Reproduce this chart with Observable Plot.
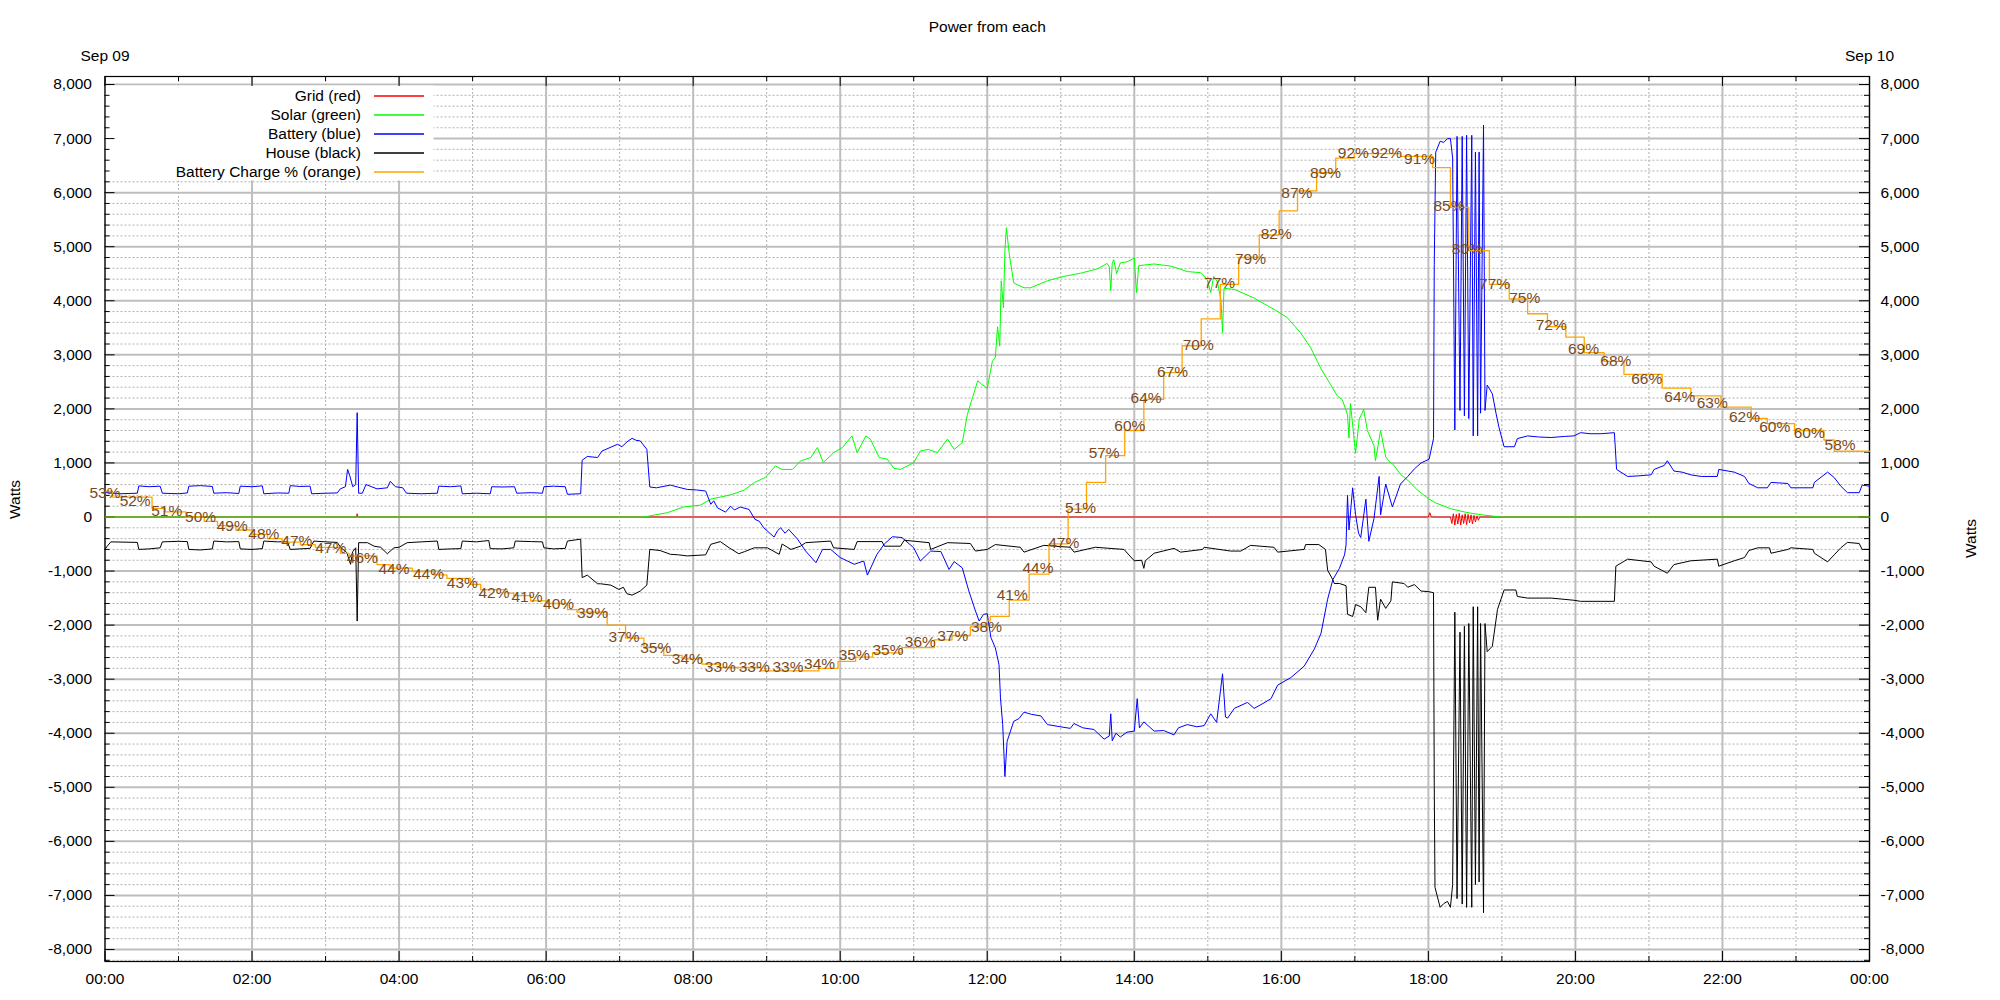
<!DOCTYPE html>
<html><head><meta charset="utf-8">
<script src="https://cdn.jsdelivr.net/npm/d3@7"></script>
<script src="https://cdn.jsdelivr.net/npm/@observablehq/plot@0.6"></script>
<style>
html,body{margin:0;padding:0;background:#fff;}
#chart{position:relative;width:2000px;height:1000px;}
</style>
</head><body><div id="chart"></div>
<script>
// ---------------- DATA (hours since 00:00 Sep 09, watts / percent) ----------------
const titleText = "Power from each";
const dateHours = [0, 24];
const dateTexts = ["Sep 09", "Sep 10"];
const legendNames = ["Grid (red)", "Solar (green)", "Battery (blue)", "House (black)", "Battery Charge % (orange)"];
const legendColors = ["#ff0000", "#00ff00", "#0000ff", "#000000", "#ffa500"];

const gridPts = [[0,0],[3.42,0],[3.43,60],[3.44,0],[18.0,0],[18.02,80],[18.04,0],[18.3,0],[18.32,-120],[18.34,60],[18.36,-150],[18.38,50],[18.4,-130],[18.42,70],[18.44,-150],[18.46,40],[18.48,-120],[18.5,60],[18.52,-140],[18.54,50],[18.56,-110],[18.58,40],[18.6,-130],[18.62,30],[18.64,-90],[18.66,20],[18.68,-60],[18.7,0],[24,0]];

const solarPts = [[0,0],[7.33,0],[7.45,30],[7.65,80],[7.87,185],[8.1,220],[8.24,330],[8.51,410],[8.69,495],[8.83,635],[8.98,730],[9.12,945],[9.21,880],[9.35,880],[9.46,1035],[9.6,1100],[9.69,1285],[9.77,1005],[9.91,1190],[10.03,1285],[10.16,1500],[10.23,1190],[10.35,1500],[10.41,1440],[10.53,1100],[10.64,1070],[10.73,900],[10.82,880],[11.0,1005],[11.09,1220],[11.2,1250],[11.32,1190],[11.46,1440],[11.55,1250],[11.66,1375],[11.73,1900],[11.8,2210],[11.87,2520],[11.93,2450],[12.0,2380],[12.07,2880],[12.11,2950],[12.14,3520],[12.17,3160],[12.19,4370],[12.22,3870],[12.24,4930],[12.26,5350],[12.3,4860],[12.36,4330],[12.5,4240],[12.59,4240],[12.82,4370],[13.04,4450],[13.27,4510],[13.5,4590],[13.63,4690],[13.66,4630],[13.68,4190],[13.7,4700],[13.72,4760],[13.76,4500],[13.81,4700],[13.9,4720],[14.0,4790],[14.03,4150],[14.06,4650],[14.27,4680],[14.5,4640],[14.72,4540],[14.9,4520],[14.99,4400],[15.04,4150],[15.08,4450],[15.13,4350],[15.18,4010],[15.2,3410],[15.22,4230],[15.36,4210],[15.63,4050],[15.9,3840],[16.08,3690],[16.26,3410],[16.4,3130],[16.54,2740],[16.67,2450],[16.76,2240],[16.83,2170],[16.9,1890],[16.92,1460],[16.94,2100],[17.01,1180],[17.06,1810],[17.12,1990],[17.17,1600],[17.26,1320],[17.28,1040],[17.35,1600],[17.42,1110],[17.46,1040],[17.53,960],[17.62,790],[17.72,680],[17.85,500],[18.01,330],[18.1,260],[18.3,155],[18.5,90],[18.67,50],[18.85,20],[18.98,0],[24,0]];

const batteryPts = [[0,500],[0.02,450],[0.2,430],[0.44,440],[0.46,575],[0.6,560],[0.75,570],[0.78,440],[1.0,430],[1.12,445],[1.14,570],[1.3,580],[1.46,565],[1.48,440],[1.65,450],[1.82,435],[1.84,570],[2.0,560],[2.14,575],[2.16,430],[2.35,445],[2.5,440],[2.52,580],[2.65,565],[2.79,570],[2.81,430],[3.0,440],[3.16,445],[3.2,520],[3.27,560],[3.3,880],[3.33,760],[3.37,560],[3.41,600],[3.43,1930],[3.45,440],[3.5,440],[3.55,600],[3.7,520],[3.84,540],[3.88,660],[3.95,560],[4.05,540],[4.1,440],[4.3,430],[4.52,440],[4.54,570],[4.7,560],[4.84,575],[4.86,430],[5.05,440],[5.24,430],[5.26,560],[5.4,555],[5.57,560],[5.6,440],[5.8,450],[5.95,440],[5.97,560],[6.1,570],[6.26,560],[6.29,420],[6.47,430],[6.49,1050],[6.56,1120],[6.7,1100],[6.76,1220],[6.97,1345],[7.03,1300],[7.1,1390],[7.17,1456],[7.22,1420],[7.28,1407],[7.37,1252],[7.41,555],[7.5,540],[7.69,590],[7.8,550],[7.92,510],[8.05,500],[8.17,480],[8.24,235],[8.28,300],[8.33,170],[8.44,90],[8.51,200],[8.56,130],[8.64,185],[8.76,140],[8.84,-43],[8.9,-80],[8.96,-200],[9.1,-370],[9.15,-250],[9.19,-200],[9.25,-300],[9.3,-230],[9.42,-410],[9.53,-630],[9.67,-845],[9.76,-600],[9.87,-600],[10.0,-750],[10.19,-875],[10.32,-815],[10.37,-1075],[10.5,-690],[10.6,-500],[10.71,-365],[10.84,-380],[11.0,-570],[11.09,-815],[11.23,-630],[11.37,-640],[11.48,-970],[11.55,-825],[11.66,-940],[11.75,-1370],[11.84,-1740],[11.89,-1925],[11.95,-1800],[12.0,-1790],[12.05,-2230],[12.11,-2420],[12.16,-2730],[12.18,-3345],[12.21,-3840],[12.24,-4800],[12.27,-4150],[12.36,-3780],[12.43,-3730],[12.5,-3610],[12.6,-3650],[12.73,-3680],[12.82,-3840],[12.95,-3870],[13.13,-3910],[13.18,-3820],[13.3,-3900],[13.45,-3930],[13.59,-4110],[13.66,-4050],[13.68,-3640],[13.7,-4140],[13.75,-4000],[13.81,-4070],[13.9,-3980],[14.0,-3960],[14.04,-3360],[14.07,-3900],[14.13,-3790],[14.27,-3960],[14.4,-3950],[14.54,-4030],[14.6,-3900],[14.72,-3840],[14.85,-3880],[14.95,-3860],[15.04,-3640],[15.12,-3800],[15.2,-2900],[15.24,-3700],[15.27,-3720],[15.36,-3540],[15.54,-3430],[15.63,-3540],[15.75,-3450],[15.86,-3360],[15.95,-3110],[16.13,-2970],[16.31,-2760],[16.45,-2440],[16.54,-2150],[16.63,-1520],[16.7,-1160],[16.79,-950],[16.86,-700],[16.88,-520],[16.9,400],[16.92,-240],[16.97,540],[17.01,40],[17.05,-300],[17.08,-380],[17.15,330],[17.19,-450],[17.26,-30],[17.33,750],[17.35,40],[17.42,610],[17.51,185],[17.62,610],[17.72,750],[17.81,890],[17.9,1000],[18.01,1070],[18.07,1450],[18.08,4670],[18.1,6750],[18.16,6950],[18.21,6930],[18.26,7000],[18.3,7000],[18.33,6640],[18.36,1610],[18.39,7040],[18.43,1970],[18.46,7040],[18.49,1870],[18.52,7060],[18.55,1820],[18.59,7060],[18.61,1500],[18.64,6750],[18.67,1500],[18.69,6750],[18.71,1920],[18.75,7250],[18.77,1970],[18.8,2440],[18.87,2280],[18.92,1920],[18.96,1660],[19.03,1300],[19.17,1300],[19.21,1450],[19.35,1500],[19.5,1480],[19.67,1470],[19.85,1490],[19.98,1500],[20.07,1560],[20.2,1540],[20.35,1540],[20.53,1560],[20.56,880],[20.71,750],[20.85,760],[21.03,780],[21.07,880],[21.21,955],[21.25,1040],[21.34,850],[21.45,830],[21.57,780],[21.71,750],[21.93,750],[21.95,880],[22.16,830],[22.3,750],[22.36,620],[22.48,540],[22.61,540],[22.66,640],[22.89,620],[22.93,540],[23.23,540],[23.25,640],[23.43,830],[23.52,730],[23.61,570],[23.7,450],[23.86,450],[23.9,590],[24.0,570]];

const housePts = [[0,-600],[0.03,-540],[0.08,-460],[0.44,-470],[0.46,-600],[0.6,-590],[0.75,-570],[0.78,-460],[1.0,-450],[1.12,-455],[1.14,-600],[1.3,-610],[1.46,-590],[1.48,-445],[1.65,-460],[1.82,-455],[1.84,-590],[2.0,-600],[2.14,-585],[2.16,-445],[2.35,-460],[2.48,-455],[2.52,-600],[2.65,-590],[2.79,-580],[2.84,-445],[3.0,-460],[3.16,-470],[3.2,-555],[3.29,-660],[3.34,-875],[3.37,-640],[3.41,-570],[3.43,-1925],[3.45,-475],[3.57,-475],[3.66,-540],[3.75,-560],[3.84,-680],[3.93,-570],[4.0,-560],[4.11,-475],[4.3,-460],[4.52,-445],[4.54,-600],[4.7,-590],[4.84,-585],[4.86,-445],[5.05,-460],[5.22,-435],[5.24,-585],[5.4,-590],[5.56,-570],[5.58,-445],[5.8,-455],[5.95,-460],[5.97,-570],[6.1,-590],[6.26,-580],[6.29,-445],[6.47,-410],[6.49,-1120],[6.56,-1075],[6.7,-1235],[6.74,-1235],[6.88,-1260],[6.99,-1340],[7.05,-1300],[7.1,-1420],[7.17,-1445],[7.28,-1370],[7.37,-1260],[7.41,-600],[7.55,-620],[7.69,-690],[7.8,-700],[7.92,-720],[8.17,-700],[8.24,-505],[8.37,-455],[8.49,-570],[8.62,-680],[8.7,-640],[8.83,-570],[9.01,-570],[9.17,-690],[9.21,-500],[9.33,-600],[9.46,-540],[9.53,-475],[9.87,-445],[9.91,-570],[10.19,-600],[10.23,-455],[10.57,-455],[10.6,-540],[10.82,-540],[10.87,-430],[11.21,-475],[11.23,-600],[11.46,-475],[11.77,-490],[11.84,-630],[12.0,-600],[12.11,-510],[12.45,-560],[12.5,-650],[12.77,-525],[13.13,-560],[13.18,-650],[13.47,-560],[13.86,-600],[14.0,-810],[14.1,-800],[14.13,-950],[14.15,-810],[14.27,-670],[14.54,-580],[14.63,-650],[14.93,-600],[14.95,-560],[15.31,-630],[15.45,-630],[15.58,-525],[15.9,-560],[15.95,-650],[16.31,-600],[16.33,-510],[16.51,-510],[16.6,-600],[16.63,-985],[16.7,-1160],[16.72,-1230],[16.79,-1230],[16.88,-1270],[16.9,-1800],[16.97,-1840],[17.01,-1620],[17.08,-1660],[17.15,-1770],[17.19,-1300],[17.28,-1300],[17.31,-1910],[17.35,-1520],[17.42,-1690],[17.49,-1550],[17.51,-1200],[17.67,-1230],[17.72,-1300],[17.81,-1250],[17.9,-1370],[18.0,-1380],[18.07,-1400],[18.08,-4980],[18.09,-6850],[18.16,-7220],[18.21,-7150],[18.26,-7110],[18.3,-7220],[18.33,-6800],[18.36,-1760],[18.39,-7060],[18.43,-2130],[18.46,-7160],[18.49,-2020],[18.52,-7220],[18.55,-1970],[18.59,-7220],[18.61,-1660],[18.64,-6800],[18.67,-1660],[18.69,-6750],[18.71,-1970],[18.75,-7320],[18.77,-1970],[18.8,-2490],[18.87,-2390],[18.94,-1710],[19.03,-1350],[19.19,-1350],[19.21,-1470],[19.35,-1500],[19.67,-1500],[19.98,-1540],[20.07,-1560],[20.53,-1560],[20.55,-910],[20.71,-780],[21.03,-830],[21.07,-910],[21.25,-1040],[21.34,-880],[21.57,-810],[21.93,-780],[21.95,-910],[22.16,-810],[22.3,-750],[22.36,-620],[22.48,-570],[22.64,-570],[22.66,-670],[22.89,-600],[22.93,-570],[23.23,-600],[23.25,-670],[23.43,-830],[23.52,-700],[23.61,-570],[23.7,-470],[23.86,-490],[23.9,-600],[24.0,-600]];

// battery state of charge (%), step changes
const chargePts = [[0.00,53.0],[0.10,52.3],[0.64,51.0],[0.82,50.6],[1.10,50.0],[1.35,49.5],[1.53,49.0],[1.78,48.5],[2.00,48.0],[2.21,47.5],[2.41,47.1],[2.66,46.8],[2.86,46.5],[3.20,45.8],[3.32,45.5],[3.70,44.5],[3.88,44.1],[4.18,43.7],[4.47,43.3],[4.65,42.9],[4.97,42.2],[5.11,41.6],[5.47,41.2],[5.56,40.9],[5.79,40.3],[6.02,40.0],[6.29,39.3],[6.42,39.0],[6.83,37.5],[7.08,36.0],[7.33,34.9],[7.60,34.0],[7.85,33.6],[8.12,33.0],[8.37,32.6],[8.92,32.2],[9.71,32.5],[9.97,33.3],[10.21,33.8],[10.44,34.3],[10.84,34.9],[11.28,35.8],[11.52,36.3],[11.77,37.3],[12.00,38.0],[12.04,38.5],[12.30,40.4],[12.57,43.4],[12.84,46.9],[13.10,50.9],[13.35,54.0],[13.61,57.1],[13.87,60.0],[14.13,63.6],[14.40,66.7],[14.65,69.8],[14.91,72.9],[15.17,76.9],[15.42,80.0],[15.70,82.6],[15.97,85.4],[16.22,87.7],[16.48,89.8],[16.74,91.5],[16.99,92.0],[17.62,91.7],[18.06,90.4],[18.30,85.8],[18.55,80.8],[18.83,76.9],[19.10,75.2],[19.35,73.5],[19.62,72.0],[19.87,70.8],[20.12,69.0],[20.39,68.0],[20.66,66.5],[21.18,64.9],[21.57,64.0],[21.98,62.7],[22.39,61.4],[22.61,60.8],[22.98,60.0],[23.38,58.9],[23.52,57.6],[24.0,57.6]];

// labels on the charge line: time, shown value, level where drawn (%)
const labelHours = [0.0,0.41,0.84,1.30,1.73,2.16,2.61,3.07,3.5,3.93,4.4,4.86,5.29,5.74,6.17,6.63,7.06,7.49,7.92,8.37,8.83,9.29,9.72,10.19,10.65,11.09,11.53,11.99,12.34,12.69,13.04,13.27,13.59,13.94,14.16,14.52,14.87,15.16,15.58,15.93,16.21,16.6,16.98,17.43,17.88,18.28,18.53,18.9,19.31,19.67,20.11,20.55,20.97,21.42,21.86,22.3,22.71,23.18,23.6];
const labelPct = [53,52,51,50,49,48,47,47,46,44,44,43,42,41,40,39,37,35,34,33,33,33,34,35,35,36,37,38,41,44,47,51,57,60,64,67,70,77,79,82,87,89,92,92,91,85,80,77,75,72,69,68,66,64,63,62,60,60,58];
const labelLevel = [52.8,51.85,50.7,50.0,49.0,48.0,47.2,46.45,45.3,43.95,43.4,42.4,41.25,40.8,39.9,38.9,36.1,34.9,33.6,32.6,32.6,32.6,33.0,34.0,34.6,35.5,36.2,37.3,41.0,44.1,47.0,51.0,57.4,60.5,63.7,66.8,69.9,77.1,79.8,82.7,87.5,89.8,92.1,92.1,91.4,85.9,81.0,76.9,75.3,72.2,69.4,68.0,65.9,63.9,63.2,61.6,60.4,59.7,58.3];

// axis ticks
const yMajor = d3.range(-8000, 8001, 1000);
const yMinor = d3.range(-8200, 8001, 200).filter(v => v % 1000 !== 0);
const xMajor = d3.range(0, 25, 2);
const xMinor = d3.range(1, 24, 2);

// ---------------- LAYOUT ----------------
const W = 2000, H = 1000;
const M = {top: 76, right: 131, bottom: 39, left: 104.5};
const plotW = W - M.left - M.right;
const plotH = H - M.top - M.bottom;
const FONT = "'Liberation Sans', Arial, Helvetica, sans-serif";
const FS = 15.5;
const pctToW = p => (p - 50) * 160;   // 0%..100% mapped onto -8000..8000 W
const hourFmt = h => String(h % 24).padStart(2, "0") + ":00";
const wattFmt = v => v.toLocaleString("en-US");

const rows = pts => pts.map(([h, w]) => ({h, w}));
const labels = labelHours.map((h, i) => ({h, pct: labelPct[i], level: labelLevel[i]}));
const dates = dateHours.map((h, i) => ({h, t: dateTexts[i]}));

const gridC = "#bebebe", minorC = "#b0b0b0";
const txt = {fill: "black", fontSize: FS, lineAnchor: "middle"};

const chart = Plot.plot({
  width: W, height: H,
  marginTop: M.top, marginRight: M.right, marginBottom: M.bottom, marginLeft: M.left,
  style: {fontFamily: FONT, fontSize: FS + "px", background: "white", color: "black"},
  x: {domain: [0, 24], axis: null},
  y: {domain: [-8222, 8148], axis: null},
  marks: [
    // grid
    Plot.ruleY(yMinor, {y: d => d, stroke: minorC, strokeWidth: 1, strokeDasharray: "2,2"}),
    Plot.ruleX(xMinor, {x: d => d, stroke: minorC, strokeWidth: 1, strokeDasharray: "2,2"}),
    Plot.ruleY(yMajor, {y: d => d, stroke: gridC, strokeWidth: 2}),
    Plot.ruleX(xMajor, {x: d => d, stroke: gridC, strokeWidth: 2}),
    // ticks (inward, mirrored)
    Plot.tickY(yMajor, {y: d => d, stroke: "black", insetRight: plotW - 10}),
    Plot.tickY(yMinor, {y: d => d, stroke: "black", insetRight: plotW - 5}),
    Plot.tickY(yMajor, {y: d => d, stroke: "black", insetLeft: plotW - 10}),
    Plot.tickY(yMinor, {y: d => d, stroke: "black", insetLeft: plotW - 5}),
    Plot.tickX(xMajor, {x: d => d, stroke: "black", insetTop: plotH - 10}),
    Plot.tickX(xMinor, {x: d => d, stroke: "black", insetTop: plotH - 5}),
    Plot.tickX(xMajor, {x: d => d, stroke: "black", insetBottom: plotH - 10}),
    Plot.tickX(xMinor, {x: d => d, stroke: "black", insetBottom: plotH - 5}),
    Plot.frame({stroke: "black", strokeWidth: 1.2}),
    // tick labels
    Plot.text(yMajor, {y: d => d, text: d => wattFmt(d), frameAnchor: "left", textAnchor: "end", dx: -13, ...txt}),
    Plot.text(yMajor, {y: d => d, text: d => wattFmt(d), frameAnchor: "right", textAnchor: "start", dx: 11, ...txt}),
    Plot.text(xMajor, {x: d => d, text: d => hourFmt(d), frameAnchor: "bottom", dy: 18, ...txt}),
    Plot.text(dates, {x: "h", text: "t", frameAnchor: "top", dy: -20, ...txt}),
    Plot.text([titleText], {text: d => d, frameAnchor: "top", dy: -49, ...txt}),
    Plot.text(["Watts"], {text: d => d, frameAnchor: "left", dx: -90, rotate: -90, ...txt}),
    Plot.text(["Watts"], {text: d => d, frameAnchor: "right", dx: 102, rotate: -90, ...txt}),
    // data
    Plot.line(rows(gridPts), {x: "h", y: "w", stroke: legendColors[0], strokeWidth: 1}),
    Plot.line(rows(solarPts), {x: "h", y: "w", stroke: legendColors[1], strokeWidth: 1}),
    Plot.line(rows(batteryPts), {x: "h", y: "w", stroke: legendColors[2], strokeWidth: 1}),
    Plot.line(rows(housePts), {x: "h", y: "w", stroke: legendColors[3], strokeWidth: 1}),
    Plot.line(rows(chargePts), {x: "h", y: d => pctToW(d.w), curve: "step-after", stroke: legendColors[4], strokeWidth: 1.3}),
    Plot.text(labels, {x: "h", y: d => pctToW(d.level), text: d => d.pct + "%", fill: "#7b4a1c", fontSize: FS, lineAnchor: "middle"})
  ]
});

document.getElementById("chart").appendChild(chart);

// ---------------- LEGEND (opaque key, drawn above grid, below ticks) ----------------
const markGroups = chart.querySelectorAll(":scope > g");
const legG = document.createElementNS("http://www.w3.org/2000/svg", "g");
markGroups[3].after(legG);
const leg = d3.select(legG).attr("font-family", FONT).attr("font-size", FS);
leg.append("rect").attr("x", M.left + 1).attr("y", 85.5).attr("width", 328).attr("height", 95).attr("fill", "white");
legendNames.forEach((name, i) => {
  const y = 96 + 19 * i;
  leg.append("text").attr("x", 361).attr("y", y).attr("dy", "0.35em").attr("text-anchor", "end").attr("fill", "black").text(name);
  leg.append("line").attr("x1", 374).attr("x2", 424).attr("y1", y).attr("y2", y).attr("stroke", legendColors[i]).attr("stroke-width", 1.3);
});
</script>
</body></html>
